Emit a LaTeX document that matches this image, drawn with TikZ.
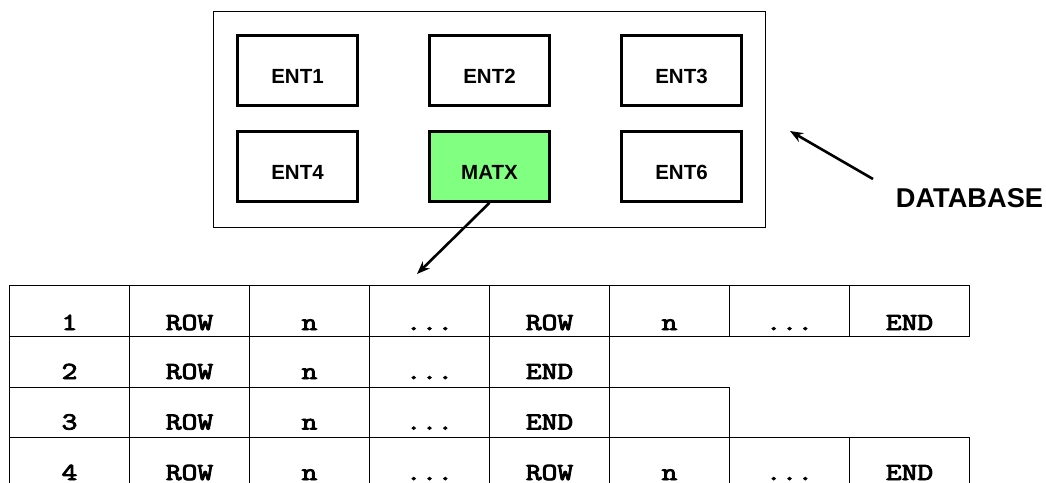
\documentclass[tikz,border=0pt]{standalone}
\usepackage{graphicx}
\usepackage{fontspec}
\setmainfont{Liberation Sans}
\newfontfamily\cellfont[FakeBold=3.2]{Latin Modern Mono}
\usetikzlibrary{arrows.meta}
\definecolor{matxgreen}{HTML}{80FF80}
\newcommand{\celldots}{...}
\newcommand{\celltext}[1]{\scalebox{1.25}[1]{#1}}
\tikzset{
  frame/.style={draw=black,line width=1.2pt,fill=white,inner sep=0pt,minimum width=552pt,minimum height=216pt},
  entity/.style={draw=black,line width=3pt,fill=white,inner sep=0pt,minimum width=119.5pt,text height=48pt,text depth=22pt,anchor=base,font=\fontsize{20.5}{24}\selectfont\bfseries},
  cell/.style={draw=black,line width=1.1pt,inner sep=0pt,minimum width=120pt,anchor=base,font=\fontsize{24.5}{30}\selectfont\cellfont},
  rowa/.style={cell,text height=44.5pt,text depth=6.5pt},
  rowb/.style={cell,text height=42.5pt,text depth=8.5pt},
  rowc/.style={cell,text height=42pt,text depth=8pt},
  rowd/.style={cell,text height=42.5pt,text depth=25pt},
  pointer/.style={draw=black,line width=2.6pt,-{Stealth[length=13pt,width=10pt]}},
}
\begin{document}
\begin{tikzpicture}[x=1pt,y=-1pt]
\useasboundingbox (0,0) rectangle (1046,482);
\clip (0,0) rectangle (1046,482);
\node[frame] (db) at (489.5,119.5) {};
\node[entity] (e1) at (297.5,83.3) {ENT1};
\node[entity] (e2) at (489.5,83.3) {ENT2};
\node[entity] (e3) at (681.5,83.3) {ENT3};
\node[entity] (e4) at (297.5,179.3) {ENT4};
\node[entity,fill=matxgreen] (mx) at (489.5,179.3) {MATX};
\node[entity] (e6) at (681.5,179.3) {ENT6};
\node[anchor=base,inner sep=0pt,font=\fontsize{27.2}{30}\selectfont\bfseries] (lbl) at (969.5,207) {DATABASE};
\coordinate (tbltop) at (417,274);
\coordinate (dbstart) at (873,179);
\coordinate (dbend) at (790,131);
\foreach \n/\x/\t in {a1/69.5/1,a2/189.5/ROW,a3/309.5/n,a4/429.5/\celldots,a5/549.5/ROW,a6/669.5/n,a7/789.5/\celldots,a8/909.5/END}
  \node[rowa] (\n) at (\x,330) {\celltext{\t}};
\foreach \n/\x/\t in {b1/69.5/2,b2/189.5/ROW,b3/309.5/n,b4/429.5/\celldots,b5/549.5/END}
  \node[rowb] (\n) at (\x,379) {\celltext{\t}};
\foreach \n/\x/\t in {c1/69.5/3,c2/189.5/ROW,c3/309.5/n,c4/429.5/\celldots,c5/549.5/END,c6/669.5/{}}
  \node[rowc] (\n) at (\x,429.5) {\celltext{\t}};
\foreach \n/\x/\t in {d1/69.5/4,d2/189.5/ROW,d3/309.5/n,d4/429.5/\celldots,d5/549.5/ROW,d6/669.5/n,d7/789.5/\celldots,d8/909.5/END}
  \node[rowd] (\n) at (\x,480) {\celltext{\t}};
\draw[pointer] (mx.south) -- (tbltop);
\draw[pointer] (dbstart) -- (dbend);
\end{tikzpicture}
\end{document}
